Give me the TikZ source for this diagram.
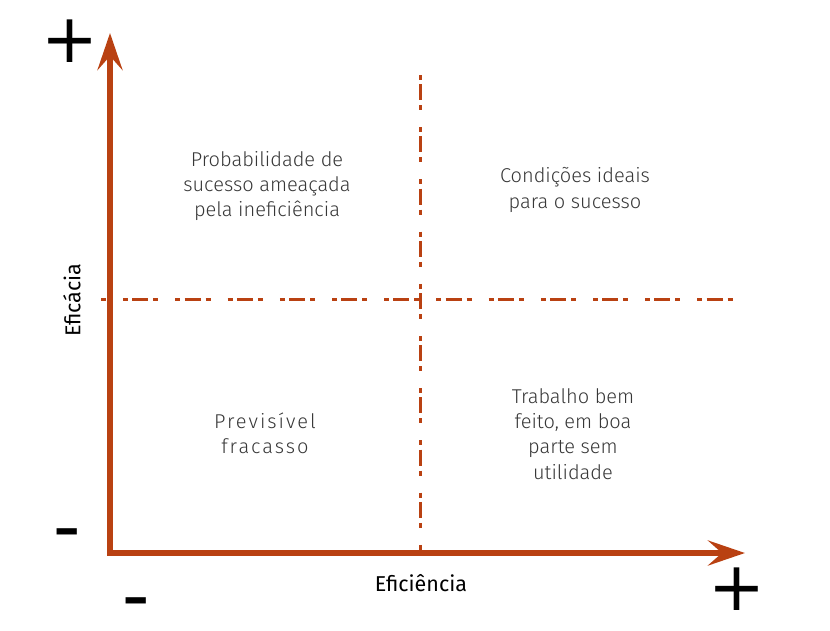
\documentclass[tikz,border=0pt]{standalone}
\usepackage{fontspec}
\setmainfont{Fira Sans}[UprightFont={* Light}]
\newfontfamily\axisfont{Fira Sans}
\newfontfamily\signfont{DejaVu Sans}
\newfontfamily\minusfont{DejaVu Sans Bold}
\usetikzlibrary{arrows.meta}
\definecolor{rust}{RGB}{185,65,18}
\definecolor{txt}{RGB}{55,55,55}
\tikzset{
  quad/.style={align=center, text=txt, inner sep=0pt, font=\fontsize{20}{25.3}\selectfont},
  axislabel/.style={text=black, inner sep=0pt, font=\axisfont\fontsize{21.5}{24}\selectfont},
  sign/.style={text=black, inner sep=0pt, font=\signfont\fontsize{68}{68}\selectfont},
  minussign/.style={text=black, inner sep=0pt, xscale=1.5, font=\minusfont\fontsize{44}{44}\selectfont},
  divider/.style={rust, line width=3pt, dash pattern=on 5pt off 4.2pt on 16pt off 5pt on 5pt off 17pt},
  axisline/.style={rust, line width=6pt, line join=miter,
    {Stealth[length=37pt, width=25pt, inset=14pt]}-{Stealth[length=37pt, width=25pt, inset=14pt]}}
}
\begin{document}
\begin{tikzpicture}[x=1pt,y=-1pt]
\useasboundingbox (0,0) rectangle (830,630);
% reference points
\coordinate (ytip) at (110,33);
\coordinate (origin) at (110,553);
\coordinate (xtip) at (745,553);
\coordinate (hl) at (101,299);
\coordinate (hr) at (735,299);
\coordinate (vt) at (420,75);
\coordinate (vb) at (420,553);
% dividers
\draw[divider, dash phase=30pt] (hl) -- (hr);
\draw[divider] (vt) -- (vb);
% axes
\draw[axisline] (ytip) -- (origin) -- (xtip);
% quadrant texts
\node[quad] (q1) at (267,186) {Probabilidade de\\sucesso ameaçada\\pela ineficiência};
\node[quad] (q2) at (575,190) {Condições ideais\\para o sucesso};
\node[quad, font=\fontsize{20}{25.3}\selectfont\addfontfeature{LetterSpace=10}] (q3) at (265,433) {Previsível\\fracasso};
\node[quad] (q4) at (573,434) {Trabalho bem\\feito, em boa\\parte sem\\utilidade};
% axis labels
\node[axislabel] (ex) at (421,583) {Eficiência};
\node[axislabel, rotate=90] (ey) at (72,300) {Eficácia};
% signs
\node[sign] (yplus) at (70,41) {+};
\node[sign] (xplus) at (737,589) {+};
\node[minussign] (yminus) at (67,537) {-};
\node[minussign] (xminus) at (136,606) {-};
\end{tikzpicture}
\end{document}
